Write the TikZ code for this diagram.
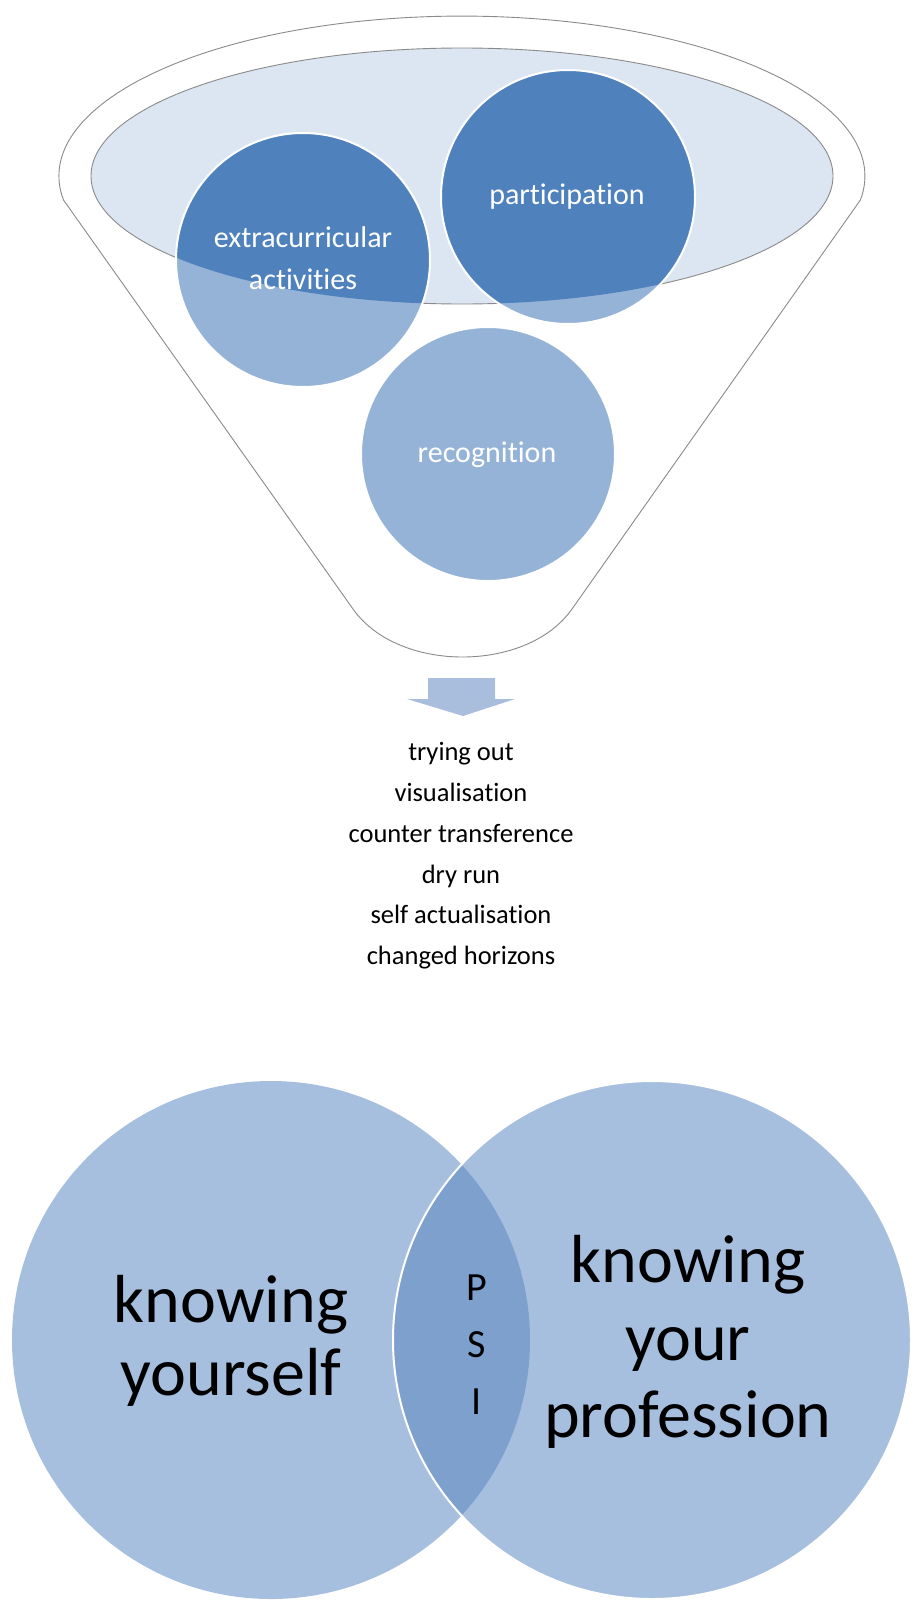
\documentclass[tikz,border=0pt]{standalone}
\usepackage{fontspec}
\setmainfont[Ligatures=NoCommon]{Carlito}
\definecolor{darkblue}{HTML}{4F81BD}
\definecolor{lightblue}{HTML}{95B3D7}
\definecolor{ellfill}{HTML}{DCE6F2}
\definecolor{vennblue}{HTML}{A7BFDE}
\definecolor{lensblue}{HTML}{7DA0CD}
\definecolor{arrowblue}{HTML}{A9BEDD}
\definecolor{rimgray}{HTML}{8A8A8A}
\begin{document}
\begin{tikzpicture}[x=1pt,y=1pt,
  funnelline/.style={draw=rimgray, line width=0.9pt},
  bubble/.style={circle, minimum size=254pt, inner sep=0pt, outer sep=0pt, fill=lightblue},
  vennc/.style={circle, minimum size=518pt, inner sep=0pt, outer sep=0pt, fill=vennblue},
  bubbletext/.style={text=white, font=\fontsize{30}{36}\selectfont, anchor=base, inner sep=0pt},
  listtext/.style={text=black, font=\fontsize{26.5}{32}\selectfont, anchor=base, inner sep=0pt},
  bigtext/.style={text=black, font=\fontsize{68}{76}\selectfont, anchor=base, inner sep=0pt},
  psitext/.style={text=black, font=\fontsize{40}{48}\selectfont, anchor=base, inner sep=0pt}]
\useasboundingbox (0,0) rectangle (913,-1611);

% funnel outline
\draw[funnelline, fill=white] (63.5,-200)
  arc[start angle=188.6, end angle=-8.6, x radius=403, y radius=160]
  -- (572,-609) .. controls (527,-673) and (398,-673) .. (353,-609) -- cycle;

% inner ellipse
\draw[funnelline, fill=ellfill] (462,-176) ellipse[x radius=371, y radius=128];

% bubbles (light)
\node[bubble] (extra) at (303,-260) {};
\node[bubble] (part) at (568,-197) {};
\node[bubble] (recog) at (488,-454) {};

% dark parts inside the ellipse
\begin{scope}
  \clip (462,-176) ellipse[x radius=371, y radius=128];
  \fill[darkblue] (extra.center) circle[radius=127];
  \fill[darkblue] (part.center) circle[radius=127];
\end{scope}

% white rims
\draw[white, line width=2pt] (extra.center) circle[radius=127];
\draw[white, line width=2pt] (part.center) circle[radius=127];
\draw[white, line width=2pt] (recog.center) circle[radius=127];

% bubble labels
\node[bubbletext] (t1) at (303,-247) {extracurricular};
\node[bubbletext] (t2) at (303,-289) {activities};
\node[bubbletext] (t3) at (567,-204) {participation};
\node[bubbletext] (t4) at (487,-462) {recognition};

% arrow
\fill[arrowblue] (428,-678) -- (495,-678) -- (495,-699) -- (515,-699)
  -- (463,-716) -- (407,-699) -- (428,-699) -- cycle;

% list
\node[listtext] (l1) at (461,-760) {trying out};
\node[listtext] (l2) at (461,-801) {visualisation};
\node[listtext] (l3) at (461,-842) {counter transference};
\node[listtext] (l4) at (461,-883) {dry run};
\node[listtext] (l5) at (461,-923) {self actualisation};
\node[listtext] (l6) at (461,-964) {changed horizons};

% Venn
\node[vennc] (ky) at (271,-1340) {};
\node[vennc] (kp) at (652,-1340) {};
\begin{scope}
  \clip (ky.center) circle[radius=259];
  \fill[lensblue] (kp.center) circle[radius=259];
\end{scope}
\draw[white, line width=2pt] (kp.center) circle[radius=259];

\node[bigtext] (ky1) at (231,-1322) {knowing};
\node[bigtext] (ky2) at (231,-1395) {yourself};
\node[bigtext] (kp1) at (688,-1282) {knowing};
\node[bigtext] (kp2) at (688,-1360) {your};
\node[bigtext] (kp3) at (688,-1437) {profession};

\node[psitext] (p) at (477,-1300) {P};
\node[psitext] (s) at (477,-1357) {S};
\node[psitext] (i) at (477,-1414) {I};
\end{tikzpicture}
\end{document}
